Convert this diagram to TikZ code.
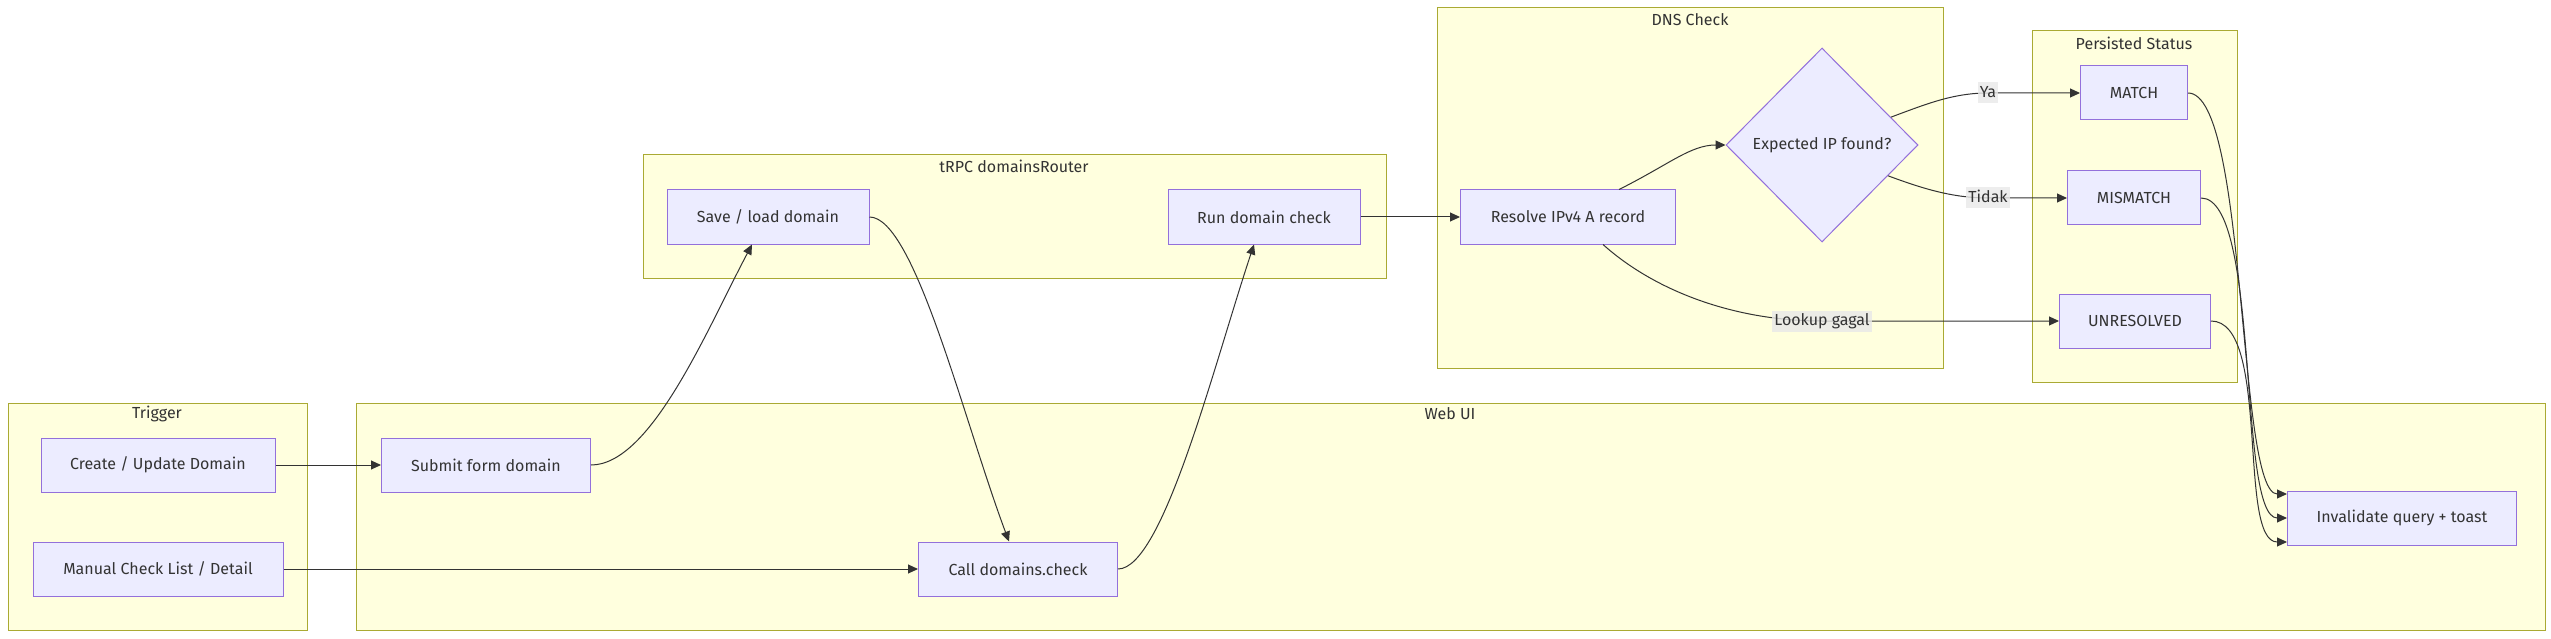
\documentclass[tikz,border=0pt]{standalone}
\usepackage{fontspec}
\setmainfont{Fira Sans}
\usepackage{xcolor}
\usetikzlibrary{arrows.meta,shapes.geometric}
\definecolor{myyellow}{HTML}{FFFFDE}
\definecolor{myolive}{HTML}{AAAA33}
\definecolor{mylilac}{HTML}{ECECFF}
\definecolor{mypurple}{HTML}{9370DB}
\definecolor{mydark}{HTML}{333333}
\definecolor{mylabel}{HTML}{E8E8E8}

\begin{document}
\begin{tikzpicture}[x=1pt,y=-1pt,
every node/.style={text=mydark,font=\fontsize{16}{19}\selectfont},
group/.style={draw=myolive,fill=myyellow,line width=1pt},
box/.style={draw=mypurple,fill=mylilac,line width=1pt,minimum height=54pt,inner sep=0pt},
decision/.style={diamond,draw=mypurple,fill=mylilac,line width=1pt,minimum width=192pt,minimum height=194pt,inner sep=0pt},
link/.style={draw=mydark,line width=1pt,-{Triangle[length=10pt,width=9pt]}},
edgelabel/.style={fill=mylabel,fill opacity=0.8,text opacity=1,inner xsep=2pt,inner ysep=1pt,text height=14pt,text depth=5pt}]
\useasboundingbox (0,0) rectangle (2551,639);

% subgraphs
\draw[group] (8,403) rectangle (307,630);
\node (tTrigger) at (157,414) {Trigger};
\draw[group] (356,403) rectangle (2545,630);
\node (tWeb) at (1450,414) {Web UI};
\draw[group] (643,155) rectangle (1386,278);
\node (tTrpc) at (1014,166) {tRPC domainsRouter};
\draw[group] (1437,8) rectangle (1943,368);
\node (tDns) at (1690,20) {DNS Check};
\draw[group] (2032,31) rectangle (2237,382);
\node (tStatus) at (2134,43) {Persisted Status};

% nodes
\node[box,minimum width=234pt] (create) at (158,465) {Create / Update Domain};
\node[box,minimum width=250pt] (manual) at (158,569) {Manual Check List / Detail};
\node[box,minimum width=209pt] (submit) at (486,465) {Submit form domain};
\node[box,minimum width=199pt] (call) at (1018,569) {Call domains.check};
\node[box,minimum width=202pt] (save) at (768,217) {Save / load domain};
\node[box,minimum width=192pt] (run) at (1264,217) {Run domain check};
\node[box,minimum width=215pt] (resolve) at (1568,217) {Resolve IPv4 A record};
\node[decision] (found) at (1822,145) {Expected IP found?};
\node[box,minimum width=107pt] (match) at (2134,93) {MATCH};
\node[box,minimum width=133pt] (mismatch) at (2134,198) {MISMATCH};
\node[box,minimum width=151pt] (unresolved) at (2135,321) {UNRESOLVED};
\node[box,minimum width=229pt] (invalidate) at (2402,518) {Invalidate query + toast};

\coordinate (ya) at (1988,93);
\coordinate (tidak) at (1988,198);
\coordinate (gagal) at (1822,321);

% edges
\draw[link] (create) -- (submit);
\draw[link] (manual) -- (call);
\draw[link] (submit.east) .. controls +(60,0) and +(-45,85) .. ([xshift=-16pt]save.south);
\draw[link] (save.east) .. controls +(45,0) and +(-45,-120) .. ([xshift=-9pt]call.north);
\draw[link] (call.east) .. controls +(45,0) and +(-40,120) .. ([xshift=-10pt]run.south);
\draw[link] (run) -- (resolve);
\draw[link] ([xshift=51pt]resolve.north) .. controls +(50,-25) and +(-35,0) .. (found.west);
\draw[link] (found.22) .. controls +(35,-13) and +(-35,0) .. (ya) -- (match);
\draw[link] (found.-25) .. controls +(35,13) and +(-35,0) .. (tidak) -- (mismatch);
\draw[link] ([xshift=35pt]resolve.south) .. controls +(50,45) and +(-90,0) .. (gagal) -- (unresolved);
\draw[link] (match.east) .. controls +(60,0) and +(-50,0) .. ([yshift=24pt]invalidate.west);
\draw[link] (mismatch.east) .. controls +(60,0) and +(-50,0) .. (invalidate.west);
\draw[link] (unresolved.east) .. controls +(60,0) and +(-50,0) .. ([yshift=-24pt]invalidate.west);

% edge labels
\node[edgelabel] (lYa) at (ya) {Ya};
\node[edgelabel] (lTidak) at (tidak) {Tidak};
\node[edgelabel] (lGagal) at (gagal) {Lookup gagal};
\end{tikzpicture}
\end{document}
